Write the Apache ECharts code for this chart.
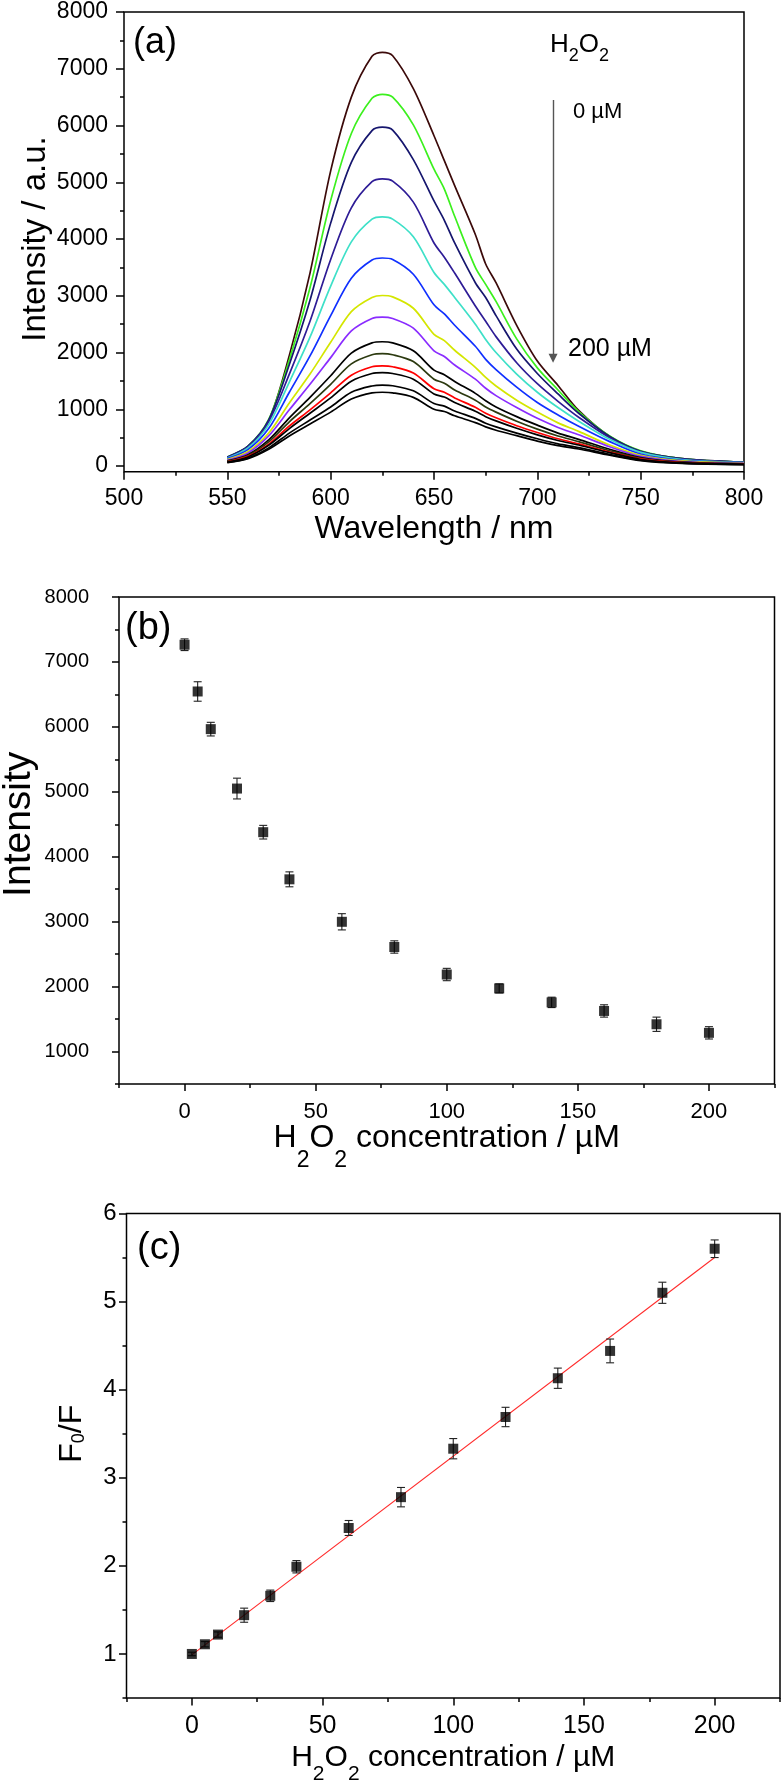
<!DOCTYPE html>
<html>
<head>
<meta charset="utf-8">
<script src="https://cdn.jsdelivr.net/npm/echarts@6/dist/echarts.min.js"></script>
<style>
html,body{margin:0;padding:0;background:#fff;}
#c{width:782px;height:1781px;}
</style>
</head>
<body>
<div id="c"></div>
<script>
const FONT = '"Liberation Sans", Arial, Helvetica, sans-serif';

// ---------- Panel (a): emission spectra ----------
const WAVELENGTHS = [550,560,570,580,590,600,610,620,625,630,640,650,655,660,670,675,680,690,700,710,720,735,750,770,800];
const SPEC_LABELS = ['0 µM','5 µM','10 µM','20 µM','30 µM','40 µM','60 µM','80 µM','100 µM','120 µM','140 µM','160 µM','180 µM','200 µM'];
const S0   = [150,340,800,1950,3400,5200,6500,7220,7290,7230,6650,5820,5380,4940,4080,3560,3230,2480,1850,1420,980,520,260,130,65];
const S5   = [160,350,820,1870,3140,4680,5860,6480,6550,6500,6010,5230,4880,4400,3500,3200,2900,2240,1730,1340,960,530,270,130,65];
const S10  = [160,350,810,1790,2920,4280,5350,5910,5970,5920,5400,4670,4330,3930,3230,2970,2650,2060,1630,1270,930,520,260,130,65];
const S20  = [150,340,780,1620,2550,3640,4550,5010,5060,5020,4650,3930,3680,3400,2820,2550,2280,1820,1450,1140,860,500,250,120,65];
const S30  = [140,320,730,1480,2270,3170,3950,4350,4390,4350,4040,3410,3200,2970,2500,2230,2000,1620,1300,1030,790,470,240,115,60];
const S40  = [130,290,660,1300,1940,2650,3310,3630,3665,3640,3380,2840,2680,2480,2110,1880,1700,1390,1120,900,700,430,210,100,55];
const S60  = [115,255,580,1110,1620,2180,2720,2970,3005,2980,2780,2320,2210,2040,1740,1560,1410,1160,950,760,610,370,190,90,50];
const S80  = [100,230,530,990,1440,1910,2380,2600,2625,2600,2430,2030,1930,1780,1530,1370,1240,1030,840,680,550,340,170,80,45];
const S100 = [90,200,460,850,1210,1590,1990,2170,2190,2170,2030,1690,1610,1490,1280,1150,1040,870,720,580,470,295,150,70,40];
const S120 = [85,185,425,780,1100,1440,1800,1960,1980,1960,1840,1530,1460,1340,1160,1040,950,790,650,530,430,270,135,65,35];
const S140 = [75,170,385,705,990,1290,1600,1750,1765,1750,1640,1360,1300,1200,1035,930,850,710,590,480,390,245,125,60,32];
const S160 = [70,160,365,660,930,1200,1495,1630,1645,1630,1530,1270,1215,1120,965,870,795,665,550,450,370,235,115,55,30];
const S180 = [65,140,320,580,810,1040,1300,1410,1425,1415,1325,1100,1055,970,840,755,690,580,480,390,325,205,105,50,27];
const S200 = [60,130,295,530,740,950,1180,1290,1300,1290,1210,1000,960,885,765,690,630,535,440,360,300,190,95,45,25];
const SPECTRA = [S0,S5,S10,S20,S30,S40,S60,S80,S100,S120,S140,S160,S180,S200];
const CURVE_COLORS = ['#3c0a0a','#3cf01e','#16166e','#2e1c96','#3ee0c8','#1030ff','#d4e600','#8a2cff',
                      '#000000','#2c3a10','#ff0000','#000000','#000000','#000000'];
// arrow annotation (wavelength, intensity from -> to)
const ARROW_X = 707.6, ARROW_FROM = 6450, ARROW_TO = 1900;

// ---------- Panel (b): intensity vs concentration ----------
const CONC = [0,5,10,20,30,40,60,80,100,120,140,160,180,200];
const INTENSITY     = [7265,6545,5965,5050,4378,3652,2998,2610,2186,1972,1757,1625,1420,1288];
const INTENSITY_ERR = [90,150,105,160,105,115,125,95,95,70,80,95,110,95];

// ---------- Panel (c): F0/F vs concentration ----------
const RATIO     = [1.00,1.11,1.22,1.44,1.66,1.99,2.43,2.78,3.33,3.69,4.13,4.44,5.10,5.60];
const RATIO_ERR = [0.02,0.03,0.03,0.08,0.065,0.07,0.085,0.11,0.115,0.11,0.115,0.135,0.12,0.10];
const FIT_X = [0,200];
const FIT_Y = [0.99,5.50];

// ---------- layout ----------
// main text top-aligned in a tall line, subscript bottom-aligned -> lowered subscript
function subRich(mainSize, subSize, lineH) {
  return {
    m:{fontSize:mainSize, fontFamily:FONT, color:'#000', fill:'#000', lineHeight:lineH, verticalAlign:'top'},
    s:{fontSize:subSize, fontFamily:FONT, color:'#000', fill:'#000', lineHeight:subSize, verticalAlign:'bottom'}
  };
}

const PANELS = [
  {rect:{left:124,top:12,width:620,height:459.7}, x:[500,800], y:[-100,8000], xm:[500,800], ym:[0,8000], xi:50, yi:1000,
   tick:8, minor:4, corner:false,
   xl:{fontSize:23, margin:15}, yl:{fontSize:23, margin:16},
   xName:'Wavelength / nm', xNameGap:41, xNameStyle:{fontSize:32, fontFamily:FONT, color:'#000'},
   yName:'Intensity / a.u.', yNameGap:72, yNameStyle:{fontSize:33, fontFamily:FONT, color:'#000'}},
  {rect:{left:119,top:597,width:655.5,height:487}, x:[-25,225], y:[500,8000], xm:[0,200], ym:[1000,8000], xi:50, yi:1000,
   tick:7, minor:4, corner:true,
   xl:{fontSize:22, margin:17}, yl:{fontSize:20, margin:30},
   xName:'{m|H}{s|2}{m|O}{s|2}{m| concentration / µM}', xNameGap:38,
   xNameStyle:{color:'#000', rich:subRich(32, 23, 50)},
   yName:'Intensity', yNameGap:80, yNameStyle:{fontSize:39, fontFamily:FONT, color:'#000'}},
  {rect:{left:126.5,top:1213.5,width:653.5,height:484.5}, x:[-25,225], y:[0.5,6], xm:[0,200], ym:[1,6], xi:50, yi:1,
   tick:7.5, minor:4, corner:true,
   xl:{fontSize:25, margin:16}, yl:{fontSize:24, margin:10},
   xName:'{m|H}{s|2}{m|O}{s|2}{m| concentration / µM}', xNameGap:45,
   xNameStyle:{color:'#000', rich:subRich(30, 21, 42)},
   yName:'{m|F}{s|0}{m|/F}', yNameGap:38,
   yNameStyle:{color:'#000', rich:{
     m:{fontSize:32, fontFamily:FONT, color:'#000', lineHeight:32, verticalAlign:'top'},
     s:{fontSize:18, fontFamily:FONT, color:'#000', lineHeight:18, verticalAlign:'bottom'}}}}
];

function innerRect(p) {
  const r = p.rect;
  const kx = r.width / (p.x[1] - p.x[0]);
  const ky = r.height / (p.y[1] - p.y[0]);
  const left = r.left + (p.xm[0] - p.x[0]) * kx;
  const width = (p.xm[1] - p.xm[0]) * kx;
  const top = r.top + (p.y[1] - p.ym[1]) * ky;
  const height = (p.ym[1] - p.ym[0]) * ky;
  return {left, top, width, height,
          offX: (r.top + r.height) - (top + height),
          offY: left - r.left};
}

const plain = v => String(v);
const grids = [], xAxes = [], yAxes = [];
const tickLine = {color:'#000', width:1.5};
PANELS.forEach((p, i) => {
  const inner = innerRect(p);
  grids.push({left:p.rect.left, top:p.rect.top, width:p.rect.width, height:p.rect.height,
              show:true, borderColor:'#000', borderWidth:1.5, backgroundColor:'transparent',
              containLabel:false, outerBoundsMode:'none'});
  grids.push({left:inner.left, top:inner.top, width:inner.width, height:inner.height,
              show:false, containLabel:false, outerBoundsMode:'none'});
  const gB = 2 * i, gA = 2 * i + 1;
  xAxes.push({type:'value', gridIndex:gB, min:p.x[0], max:p.x[1], interval:p.x[1]-p.x[0],
              axisLine:{show:false, onZero:false},
              axisTick:{show:p.corner, length:p.minor, lineStyle:tickLine},
              axisLabel:{show:false}, splitLine:{show:false}});
  yAxes.push({type:'value', gridIndex:gB, min:p.y[0], max:p.y[1], interval:p.y[1]-p.y[0],
              axisLine:{show:false, onZero:false},
              axisTick:{show:p.corner, length:p.minor, lineStyle:tickLine},
              axisLabel:{show:false}, splitLine:{show:false}});
  xAxes.push({type:'value', gridIndex:gA, position:'bottom', offset:inner.offX,
              min:p.xm[0], max:p.xm[1], interval:p.xi,
              axisLine:{show:false, onZero:false},
              axisTick:{show:true, length:p.tick, lineStyle:tickLine},
              minorTick:{show:true, splitNumber:2, length:p.minor, lineStyle:tickLine},
              splitLine:{show:false}, minorSplitLine:{show:false},
              axisLabel:{show:true, color:'#000', fontFamily:FONT, fontSize:p.xl.fontSize, margin:p.xl.margin, formatter:plain},
              name:p.xName, nameLocation:'middle', nameGap:p.xNameGap, nameMoveOverlap:false,
              nameTextStyle:p.xNameStyle});
  yAxes.push({type:'value', gridIndex:gA, position:'left', offset:inner.offY,
              min:p.ym[0], max:p.ym[1], interval:p.yi,
              axisLine:{show:false, onZero:false},
              axisTick:{show:true, length:p.tick, lineStyle:tickLine},
              minorTick:{show:true, splitNumber:2, length:p.minor, lineStyle:tickLine},
              splitLine:{show:false}, minorSplitLine:{show:false},
              axisLabel:{show:true, color:'#000', fontFamily:FONT, fontSize:p.yl.fontSize, margin:p.yl.margin, formatter:plain},
              name:p.yName, nameLocation:'middle', nameGap:p.yNameGap, nameMoveOverlap:false,
              nameTextStyle:p.yNameStyle});
});

function errorBars(xIdx, yIdx, xs, ys, es, color, z) {
  return {
    type:'custom', xAxisIndex:xIdx, yAxisIndex:yIdx, z:z, silent:true,
    data: xs.map((x, i) => [x, ys[i], es[i]]),
    encode:{x:0, y:1},
    renderItem: function (params, api) {
      const x = api.value(0), y = api.value(1), e = api.value(2);
      const lo = api.coord([x, y - e]);
      const hi = api.coord([x, y + e]);
      const hw = 4;
      const st = {stroke:color, lineWidth:1.1};
      return {type:'group', children:[
        {type:'line', shape:{x1:lo[0], y1:lo[1], x2:hi[0], y2:hi[1]}, style:st},
        {type:'line', shape:{x1:lo[0]-hw, y1:lo[1], x2:lo[0]+hw, y2:lo[1]}, style:st},
        {type:'line', shape:{x1:hi[0]-hw, y1:hi[1], x2:hi[0]+hw, y2:hi[1]}, style:st}
      ]};
    }
  };
}

const series = [];
SPECTRA.forEach((s, i) => {
  const ser = {
    type:'line', name:SPEC_LABELS[i], xAxisIndex:0, yAxisIndex:0,
    data: WAVELENGTHS.map((w, j) => [w, s[j]]),
    showSymbol:false, smooth:0.3, silent:true,
    lineStyle:{color:CURVE_COLORS[i], width:1.7},
    itemStyle:{color:CURVE_COLORS[i]},
    emphasis:{disabled:true}, z:2 + i * 0.01
  };
  if (i === 0) {
    ser.markLine = {
      silent:true, symbol:['none','triangle'], symbolSize:9,
      lineStyle:{color:'#555', width:1.4, type:'solid'},
      itemStyle:{color:'#333'},
      label:{show:false}, emphasis:{disabled:true},
      data:[[{coord:[ARROW_X, ARROW_FROM]}, {coord:[ARROW_X, ARROW_TO]}]]
    };
  }
  series.push(ser);
});

series.push(errorBars(2, 2, CONC, INTENSITY, INTENSITY_ERR, '#222', 3));
series.push({type:'scatter', xAxisIndex:2, yAxisIndex:2, symbol:'rect', symbolSize:10,
             data: CONC.map((c, i) => [c, INTENSITY[i]]),
             itemStyle:{color:'#000'}, emphasis:{disabled:true}, silent:true, z:4});

series.push({type:'line', xAxisIndex:4, yAxisIndex:4, showSymbol:false, silent:true,
             data: FIT_X.map((x, i) => [x, FIT_Y[i]]),
             lineStyle:{color:'#ff2a2a', width:1.1}, emphasis:{disabled:true}, z:2});
series.push(errorBars(4, 4, CONC, RATIO, RATIO_ERR, '#222', 3));
series.push({type:'scatter', xAxisIndex:4, yAxisIndex:4, symbol:'rect', symbolSize:10,
             data: CONC.map((c, i) => [c, RATIO[i]]),
             itemStyle:{color:'#000'}, emphasis:{disabled:true}, silent:true, z:4});

const graphic = [
  {type:'text', left:133, top:25, style:{text:'(a)', font:'36px ' + FONT, fill:'#000'}},
  {type:'text', left:125, top:610, style:{text:'(b)', font:'38px ' + FONT, fill:'#000'}},
  {type:'text', left:137, top:1230, style:{text:'(c)', font:'38px ' + FONT, fill:'#000'}},
  {type:'text', left:550, top:32, style:{text:'{m|H}{s|2}{m|O}{s|2}', fill:'#000', rich:subRich(26, 18, 33)}},
  {type:'text', left:573, top:101, style:{text:'0 µM', font:'22px ' + FONT, fill:'#000'}},
  {type:'text', left:568, top:337, style:{text:'200 µM', font:'25px ' + FONT, fill:'#000'}}
];

const chart = echarts.init(document.getElementById('c'), null, {renderer:'canvas', width:782, height:1781});
chart.setOption({
  animation:false,
  backgroundColor:'#fff',
  textStyle:{fontFamily:FONT},
  grid:grids, xAxis:xAxes, yAxis:yAxes, series:series, graphic:graphic
});
</script>
</body>
</html>
